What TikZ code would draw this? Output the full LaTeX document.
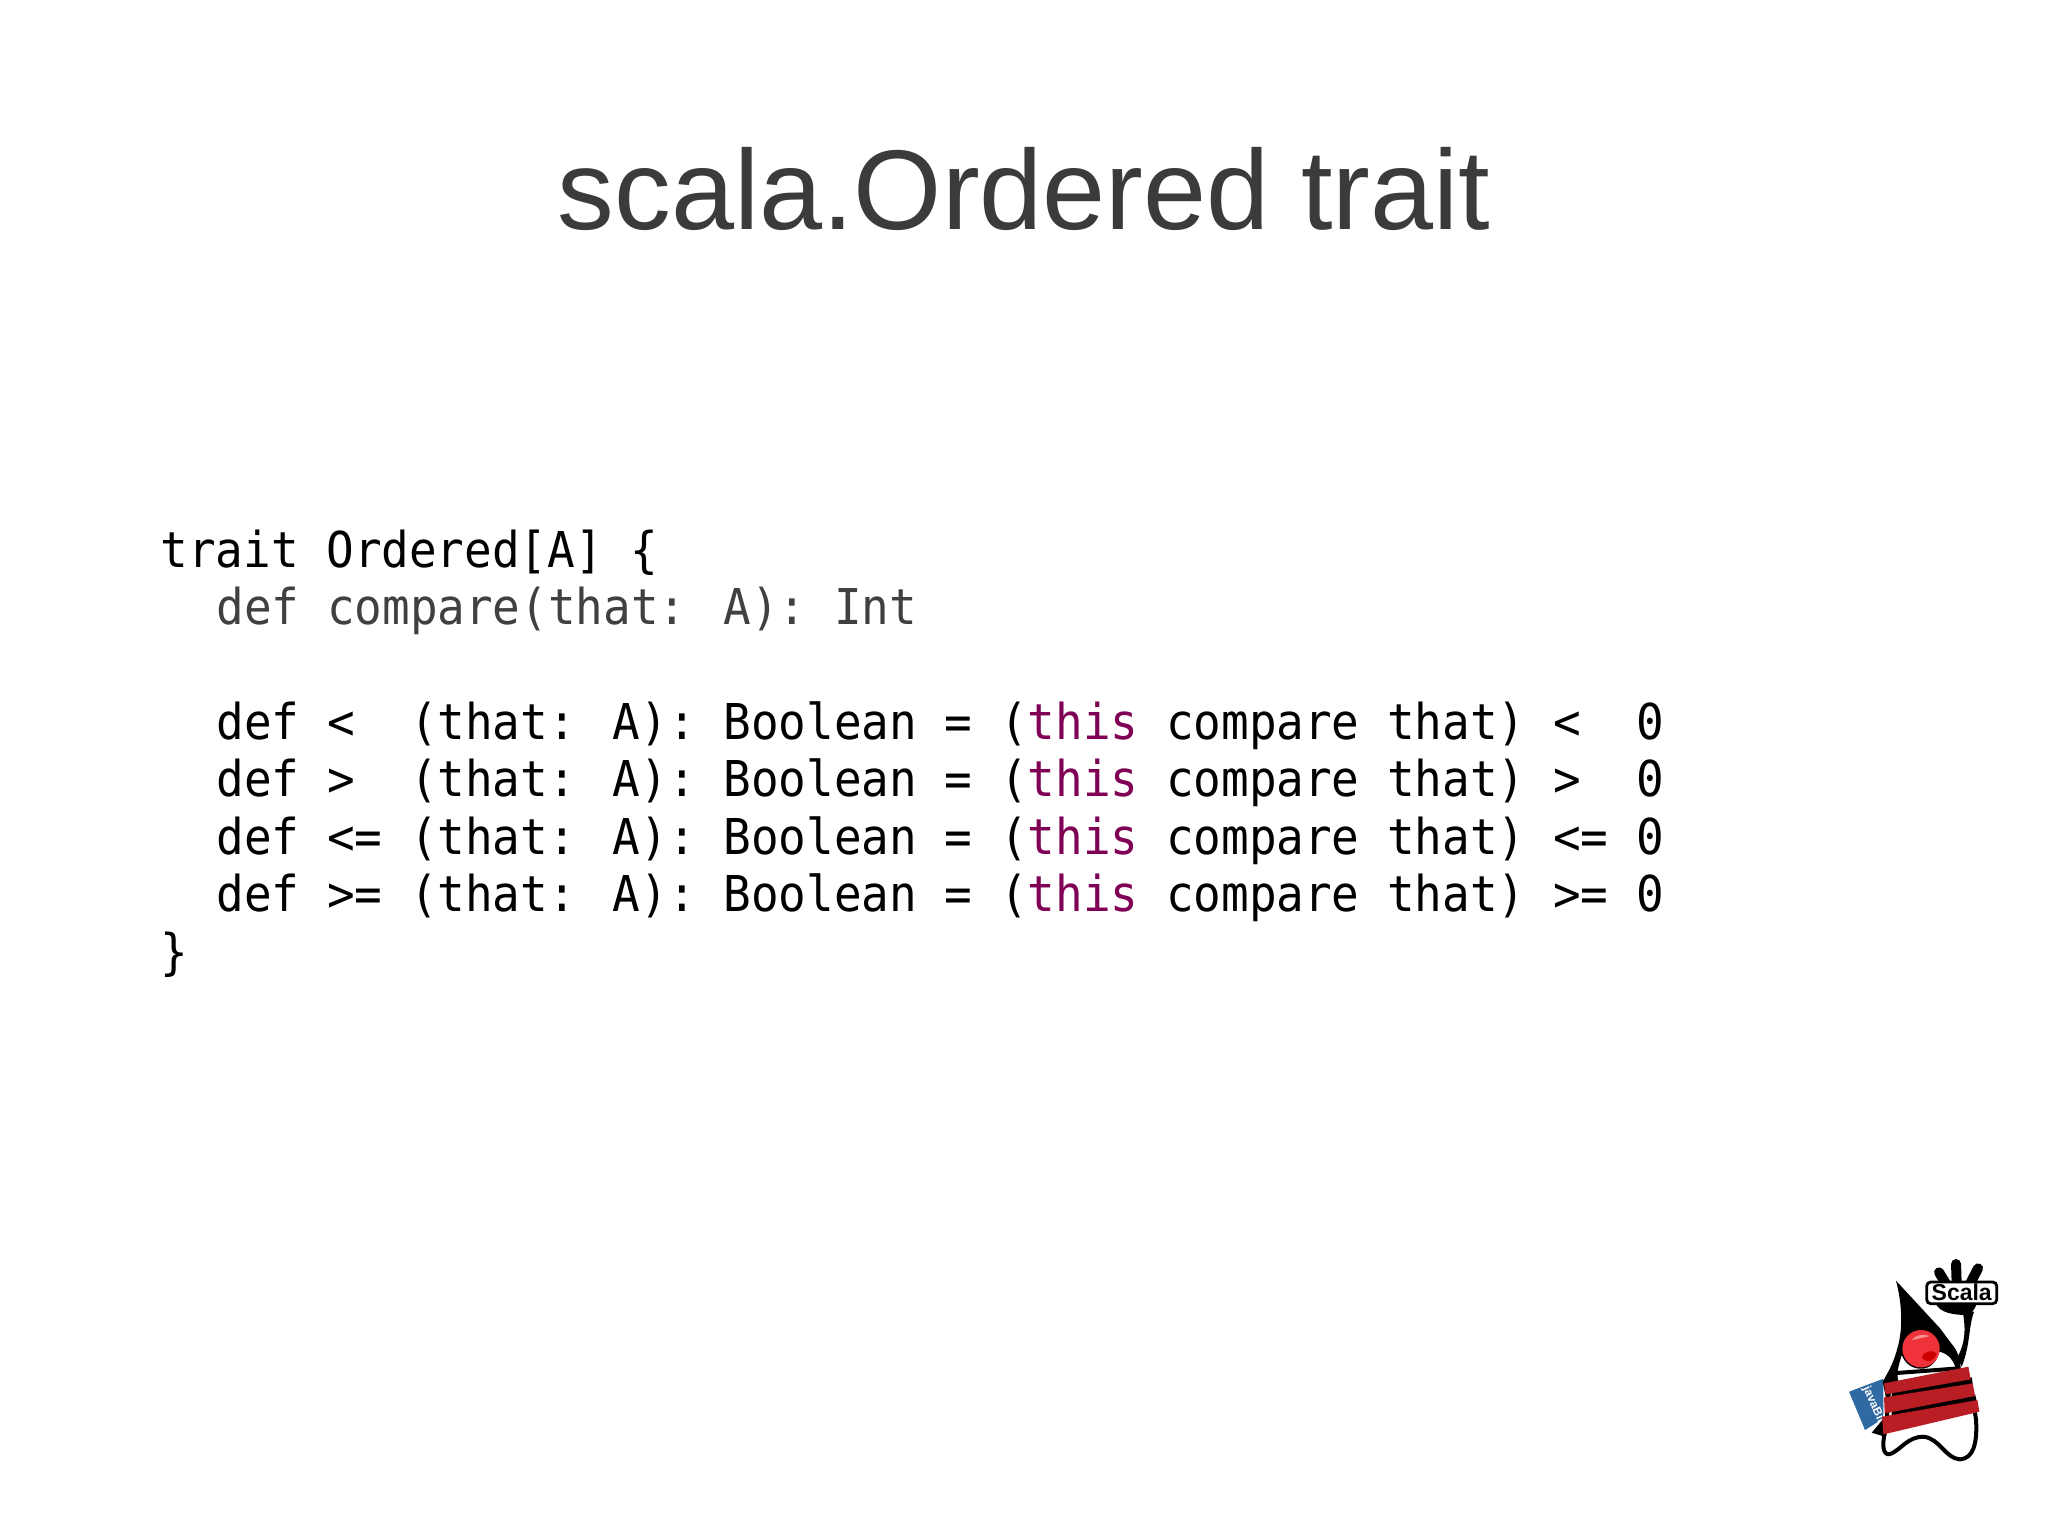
\documentclass[tikz,border=0pt]{standalone}
\usepackage{fontspec}
\setmainfont{Liberation Sans}
\newfontfamily\codefont[FakeStretch=0.93]{DejaVu Sans Mono}
\definecolor{titlegray}{HTML}{3B3B3B}
\definecolor{sigray}{HTML}{404040}
\definecolor{thispurple}{HTML}{7F0055}
\definecolor{bandred}{HTML}{B81E24}
\definecolor{bookblue}{HTML}{2F6AA3}
\definecolor{nosered}{HTML}{F0333A}
\newcommand{\thiskw}{\textcolor{thispurple}{this}}

\begin{document}
\begin{tikzpicture}[x=0.5pt,y=-0.5pt]
\tikzstyle{title}=[anchor=base,text=titlegray,font=\fontsize{56.7}{60}\selectfont,inner sep=0]
\tikzstyle{code}=[anchor=base west,font=\codefont\fontsize{24.7}{28}\selectfont,inner sep=0]
\tikzstyle{band}=[fill=bandred,draw=none]
\tikzstyle{ink}=[fill=black,draw=none]
\tikzstyle{finger}=[line width=5pt,line cap=round]

\useasboundingbox (0,0) rectangle (2048,1535);
\fill[white] (0,0) rectangle (2048,1535);

\node[title] (head) at (1024,230) {scala.Ordered trait};

\node[code] (line1) at (160,567) {trait Ordered[A] \{};
\node[code,text=sigray] (line2) at (216,624) {def compare(that: A): Int};
\node[code] (line3) at (216,739) {def <~ (that: A): Boolean = (\thiskw{} compare that) <~ 0};
\node[code] (line4) at (216,796.5) {def >~ (that: A): Boolean = (\thiskw{} compare that) >~ 0};
\node[code] (line5) at (216,854) {def <= (that: A): Boolean = (\thiskw{} compare that) <= 0};
\node[code] (line6) at (216,911.5) {def >= (that: A): Boolean = (\thiskw{} compare that) >= 0};
\node[code] (line7) at (160,969) {\}};

% mascot, in units of a third of a pixel
\begin{scope}[shift={(1820,1240)},x=0.1667pt,y=-0.1667pt]
% book
\fill[bookblue] (87,455) -- (190,416) -- (190,535) -- (135,570) -- cycle;
\node[rotate=-66,text=white,font=\bfseries\fontsize{5.9}{6}\selectfont,inner sep=0] (book) at (163,500) {javaBin};
% body outline
\draw[line width=2pt,fill=white] (215,400) .. controls (200,470) and (205,540) .. (192,590)
  .. controls (185,630) and (195,650) .. (215,640) .. controls (245,625) and (265,590) .. (310,590)
  .. controls (360,595) and (375,655) .. (420,658) .. controls (460,655) and (472,610) .. (468,540)
  .. controls (460,470) and (430,430) .. (415,385) -- cycle;
\fill[ink] (155,578) -- (195,530) -- (195,590) -- cycle;
% head
\fill[ink] (228,122) -- (360,265) -- (395,312)
  .. controls (412,330) and (422,360) .. (422,392) -- (408,392)
  .. controls (405,365) and (385,340) .. (358,335)
  .. controls (350,370) and (325,388) .. (300,386)
  .. controls (275,385) and (255,370) .. (245,345)
  .. controls (238,370) and (228,395) .. (235,425) -- (198,475) -- (188,425)
  .. controls (205,395) and (220,370) .. (232,325)
  .. controls (248,270) and (248,200) .. (228,122) -- cycle;
% arm
\fill[ink] (412,352) .. controls (435,310) and (438,270) .. (428,215) -- (462,215)
  .. controls (445,260) and (452,310) .. (425,380) -- cycle;
% hand
\draw[finger] (357,97) -- (380,135);
\draw[finger] (408,72) -- (410,135);
\draw[finger] (474,85) -- (448,135);
\fill[ink] (345,185) .. controls (355,222) and (410,225) .. (445,225)
  .. controls (460,215) and (468,200) .. (472,185) -- cycle;
\draw[rounded corners=2pt,line width=1.4pt,fill=white] (320,126) rectangle (530,191);
\node[font=\bfseries\fontsize{11.5}{12}\selectfont,inner sep=0] (scala) at (425,158) {Scala};
% nose
\fill[nosered] (303,326) circle (56);
\fill[white,opacity=0.45] (275,300) .. controls (285,285) and (310,280) .. (330,288) .. controls (310,292) and (290,298) .. (275,300) -- cycle;
\fill[red!80!black] (305,352) .. controls (315,330) and (340,330) .. (350,340) .. controls (345,360) and (325,375) .. (305,352) -- cycle;
% bands
\fill[ink] (215,458) -- (455,412) -- (458,432) -- (215,474) -- cycle;
\fill[ink] (215,512) -- (465,462) -- (470,484) -- (215,528) -- cycle;
\fill[band] (192,430) -- (445,380) -- (452,418) -- (197,463) -- cycle;
\fill[band] (192,472) -- (458,430) -- (465,468) -- (194,520) -- cycle;
\fill[band] (186,530) -- (472,480) -- (478,515) -- (190,583) -- cycle;
\end{scope}
\end{tikzpicture}
\end{document}
